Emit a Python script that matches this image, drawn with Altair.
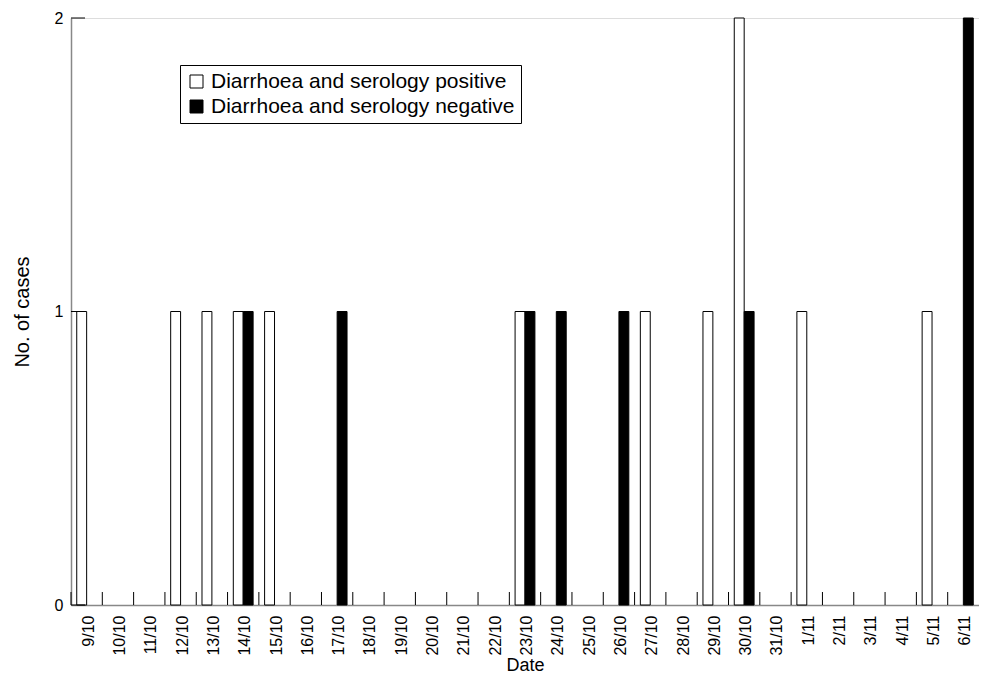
import altair as alt
import pandas as pd

dates = ["9/10", "10/10", "11/10", "12/10", "13/10", "14/10", "15/10", "16/10",
         "17/10", "18/10", "19/10", "20/10", "21/10", "22/10", "23/10", "24/10",
         "25/10", "26/10", "27/10", "28/10", "29/10", "30/10", "31/10",
         "1/11", "2/11", "3/11", "4/11", "5/11", "6/11"]
positive = [1, 0, 0, 1, 1, 1, 1, 0, 0, 0, 0, 0, 0, 0, 1, 0, 0, 0, 1, 0, 1, 2, 0,
            1, 0, 0, 0, 1, 0]
negative = [0, 0, 0, 0, 0, 1, 0, 0, 1, 0, 0, 0, 0, 0, 1, 1, 0, 1, 0, 0, 0, 1, 0,
            0, 0, 0, 0, 0, 2]
series = ["Diarrhoea and serology positive", "Diarrhoea and serology negative"]
y_ticks = [0, 1, 2]

rows = []
for d, p, n in zip(dates, positive, negative):
    if p:
        rows.append({"date": d, "series": series[0], "cases": p})
    if n:
        rows.append({"date": d, "series": series[1], "cases": n})
df = pd.DataFrame(rows)
tick_df = pd.DataFrame({"date": dates})
ytick_df = pd.DataFrame({"cases": y_ticks})

FONT = "Liberation Sans"

xscale = alt.Scale(domain=dates, paddingInner=0, paddingOuter=0)
yscale = alt.Scale(domain=[0, 2], nice=False)

xaxis = alt.Axis(title="Date", labelAngle=270, ticks=False,
                 labelPadding=10, labelOffset=2, labelFontSize=16,
                 titleFontSize=18, titleFontWeight="normal",
                 titlePadding=1, domainColor="#888888",
                 domainWidth=1.5, labelColor="black", titleColor="black")
yaxis = alt.Axis(title="No. of cases", values=y_ticks, format=".0f", ticks=False,
                 grid=False, labelPadding=8, labelFontSize=16,
                 labelOverlap=False, labelFlush=False, labelBound=False,
                 titleFontSize=20, titleFontWeight="normal",
                 titlePadding=22, domainColor="#888888", domainWidth=1.5,
                 labelColor="black", titleColor="black")

bars = alt.Chart(df).mark_bar(stroke="black", strokeWidth=1).encode(
    x=alt.X("date:N", scale=xscale, sort=dates, axis=xaxis),
    xOffset=alt.XOffset("series:N", sort=series,
                        scale=alt.Scale(domain=series, paddingOuter=0.58, paddingInner=0)),
    y=alt.Y("cases:Q", scale=yscale, axis=yaxis),
    color=alt.Color("series:N", sort=series,
                    scale=alt.Scale(domain=series, range=["white", "black"]),
                    legend=alt.Legend(title=None, orient="none", legendX=109, legendY=47,
                                      symbolType="square", symbolSize=169,
                                      symbolStrokeColor="black", symbolStrokeWidth=1,
                                      labelFontSize=21, labelFont=FONT,
                                      labelColor="black",
                                      strokeColor="black", padding=6,
                                      rowPadding=3, labelOffset=4,
                                      labelLimit=600)),
)

xticks = alt.Chart(tick_df).mark_rule(color="black", strokeWidth=1).encode(
    x=alt.X("date:N", scale=xscale, sort=dates, bandPosition=0, axis=xaxis),
    y=alt.datum(0),
    y2=alt.value(574),
)

yticks = alt.Chart(ytick_df).mark_rule(color="black", strokeWidth=1).encode(
    y=alt.Y("cases:Q", scale=yscale, axis=yaxis),
    x=alt.value(0),
    x2=alt.value(14),
)

chart = alt.layer(bars, xticks, yticks).properties(
    width=908, height=587,
    autosize=alt.AutoSizeParams(type="none"),
    padding={"left": 63, "top": 10, "right": 0, "bottom": 69},
).configure_view(stroke=None).configure(font=FONT)

chart.save("out.html", embed_options={"renderer": "svg", "actions": False})
